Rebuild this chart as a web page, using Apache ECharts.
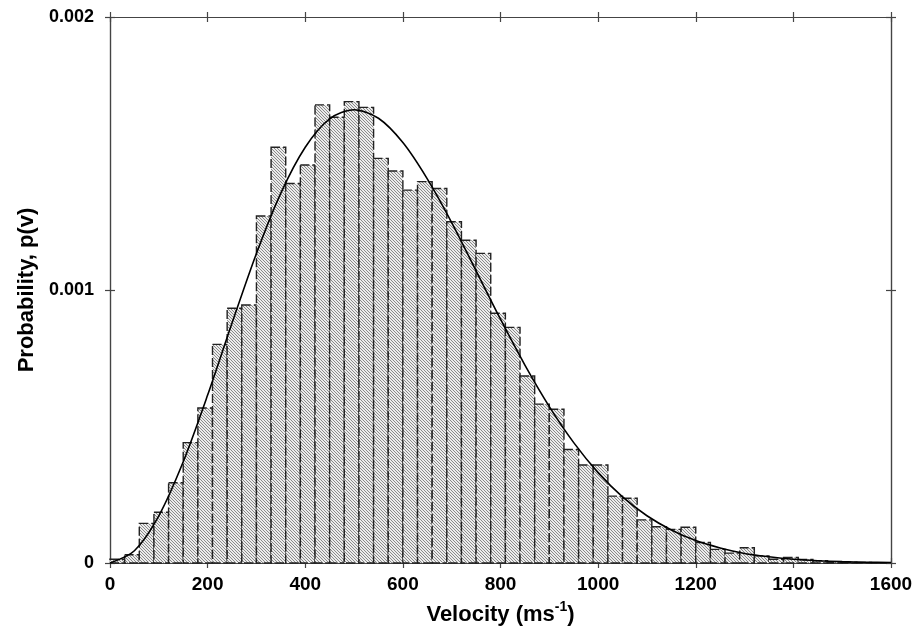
<!DOCTYPE html>
<html>
<head>
<meta charset="utf-8">
<script src="https://cdn.jsdelivr.net/npm/echarts@6/dist/echarts.min.js"></script>
<style>
html,body{margin:0;padding:0;background:#fff;}
#chart{width:918px;height:632px;}
</style>
</head>
<body>
<div id="chart"></div>
<script>
// Histogram bins (left edges, m/s) and bin width
const binStarts = [0,30,60,90,120,150,180,210,240,270,300,330,360,390,420,450,480,510,540,570,600,630,660,690,720,750,780,810,840,870,900,930,960,990,1020,1050,1080,1110,1140,1170,1200,1230,1260,1290,1320,1350,1380,1410,1440,1470,1500,1530,1560];
const binWidth = 30;
// Probability per bin
const binProb = [0.000014,0.000030,0.000145,0.000186,0.000294,0.000441,0.000568,0.000801,0.000933,0.000945,
  0.001271,0.001523,0.001390,0.001458,0.001678,0.001633,0.001690,0.001669,0.001482,0.001436,
  0.001366,0.001397,0.001372,0.001250,0.001182,0.001134,0.000915,0.000863,0.000685,0.000582,
  0.000563,0.000416,0.000359,0.000359,0.000245,0.000237,0.000158,0.000133,0.000123,0.000131,
  0.000075,0.000050,0.000036,0.000056,0.000026,0.000014,0.000020,0.000013,0.000008,0.000005,
  0.000003,0.000002,0.000001];
// Smooth curve points (velocity, probability)
const curveV = [0,50,100,150,200,250,300,350,400,450,500,550,600,650,700,750,800,850,900,950,1000,1050,1100,1150,1200,1250,1300,1350,1400,1450,1500,1550,1600];
const curveP = [0,0.000045,0.000173,0.000371,0.000615,0.000879,0.001134,0.001355,0.001523,0.001627,0.001660,0.001629,0.001540,0.001407,0.001247,0.001070,0.000893,0.000725,0.000573,0.000441,0.000331,0.000242,0.000173,0.000121,0.000082,0.000055,0.000035,0.000023,0.000014,0.0000085,0.000005,0.000003,0.0000016];
// Axis ticks
const xTicks = {min:0, max:1600, interval:200};
const yTicks = {min:0, max:0.002, interval:0.001};

// hatch pattern
const tile = document.createElement('canvas');
const S = 3;
tile.width = S; tile.height = S;
const ctx = tile.getContext('2d');
ctx.fillStyle = '#ececec';
ctx.fillRect(0,0,S,S);
ctx.strokeStyle = '#8a8a8a';
ctx.lineWidth = 1;
for (let k=-1;k<=1;k++){
  ctx.beginPath();
  ctx.moveTo(-1, k*S-1);
  ctx.lineTo(S+1, S+k*S+1);
  ctx.stroke();
}
const hatch = {image: tile, repeat: 'repeat'};

const FONT = 'Liberation Sans, Arial, sans-serif';
const axisColor = '#444';

function xAx(pos, inside, main){
  return {
    type:'value', gridIndex:0, position:pos, min:xTicks.min, max:xTicks.max, interval:xTicks.interval,
    axisLine:{show:true, onZero:false, lineStyle:{color:axisColor, width:1.2}},
    axisTick:{show:true, inside:inside, length:5, lineStyle:{color:axisColor, width:1.2}},
    axisLabel:{show:main, fontSize:19, fontWeight:'bold', color:'#000', fontFamily:FONT, margin:12,
      formatter: v => String(v)},
    splitLine:{show:false},
    name: main ? 'Velocity (ms{sup|-1})' : '',
    nameLocation:'middle', nameGap:37,
    nameTextStyle:{fontSize:22, fontWeight:'bold', color:'#000', fontFamily:FONT, lineHeight:30,
      rich:{sup:{fontSize:14, fontWeight:'bold', color:'#000', fontFamily:FONT, verticalAlign:'top', lineHeight:14}}}
  };
}
function yAx(pos, inside, main){
  return {
    type:'value', gridIndex:0, position:pos, min:yTicks.min, max:yTicks.max, interval:yTicks.interval,
    axisLine:{show:true, onZero:false, lineStyle:{color:axisColor, width:1.2}},
    axisTick:{show:true, inside:inside, length:5, lineStyle:{color:axisColor, width:1.2}},
    axisLabel:{show:main, fontSize:18, fontWeight:'bold', color:'#000', fontFamily:FONT, margin:16,
      formatter: v => v === 0 ? '0' : v.toFixed(3)},
    splitLine:{show:false},
    name: main ? 'Probability, p(v)' : '',
    nameLocation:'middle', nameGap:72,
    nameTextStyle:{fontSize:22, fontWeight:'bold', color:'#000', fontFamily:FONT}
  };
}

const chart = echarts.init(document.getElementById('chart'), null, {renderer:'canvas'});
chart.setOption({
  animation:false,
  backgroundColor:'#fff',
  grid:{left:110, right:27, top:17, bottom:69, outerBoundsMode:'none'},
  xAxis:[xAx('bottom', false, true), xAx('bottom', true, false), xAx('top', false, false), xAx('top', true, false)],
  yAxis:[yAx('left', false, true), yAx('left', true, false), yAx('right', false, false), yAx('right', true, false)],
  series:[
    {
      type:'custom', xAxisIndex:0, yAxisIndex:0,
      data: binStarts.map((s,i)=>[s, s+binWidth, binProb[i]]),
      encode:{x:[0,1], y:2},
      renderItem:(params, api)=>{
        const p0 = api.coord([api.value(0), api.value(2)]);
        const p1 = api.coord([api.value(1), 0]);
        return {type:'rect', shape:{x:p0[0], y:p0[1], width:p1[0]-p0[0], height:p1[1]-p0[1]},
          style:{fill:hatch, stroke:'#222', lineWidth:1.4, lineDash:[9,3]}};
      },
      z:2
    },
    {
      type:'line', xAxisIndex:0, yAxisIndex:0,
      data: curveV.map((v,i)=>[v, curveP[i]]),
      smooth:0.3, showSymbol:false, symbol:'none',
      lineStyle:{color:'#000', width:1.6},
      z:5
    }
  ]
});
</script>
</body>
</html>
